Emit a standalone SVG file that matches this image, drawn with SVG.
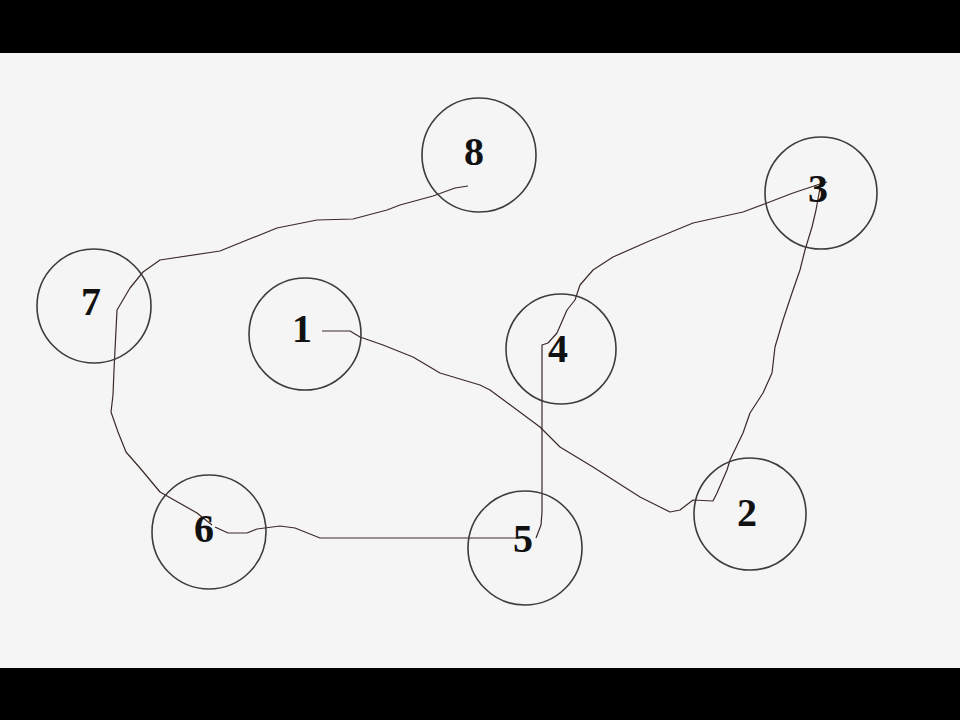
<svg xmlns="http://www.w3.org/2000/svg" width="960" height="720" viewBox="0 0 960 720">
<style>
.node circle{fill:none;stroke:#3c3c3c;stroke-width:1.6}
.node text{font-family:"Liberation Serif","Times New Roman",serif;font-weight:bold;font-size:40px;fill:#111;text-anchor:middle}
.edges path{fill:none;stroke:#3a2a28;stroke-width:1.2;stroke-linejoin:round}
</style>
<rect x="0" y="0" width="960" height="720" fill="#000"/>
<rect x="0" y="53" width="960" height="615" fill="#f6f5f5"/>
<g class="edges">
<path d="M468,186 L455,188 L433,196 L400,205 L387,210 L353,219 L317,220 L277,228 L220,251 L160,260 L143,272 L130,288 L117,310"/>
<path d="M117,310 L116,330 L114,370 L113,395 L111,412 L118,432 L126,452 L140,468 L160,492 L197,513 L212,525"/>
<path d="M215,527 L228,533 L247,533 L257,529 L280,526 L295,528 L320,538 L525,538"/>
<path d="M536,538 L541,525 L542,512 L542,345 L548,343"/>
<path d="M548,343 L557,333 L567,310 L575,300 L580,285 L593,270 L613,257 L647,242 L693,223 L743,212 L767,203 L793,193 L820,184 L827,182"/>
<path d="M820,188 L816,210 L812,227 L805,250 L800,270 L792,293 L783,320 L775,347 L772,373 L763,393 L750,413 L743,433 L730,460 L727,470 L717,493 L713,501"/>
<path d="M322,331 L350,331 L360,337 L383,345 L413,357 L440,373 L480,385 L490,390 L540,427 L560,447 L593,467 L640,497 L660,507 L670,512 L680,510 L693,500 L713,501"/>
</g>
<g id="node1" class="node"><circle cx="305" cy="334" r="56"/><text x="302" y="342">1</text></g>
<g id="node2" class="node"><circle cx="750" cy="514" r="56"/><text x="747" y="526">2</text></g>
<g id="node3" class="node"><circle cx="821" cy="193" r="56"/><text x="818" y="202">3</text></g>
<g id="node4" class="node"><circle cx="561" cy="349" r="55"/><text x="558" y="362">4</text></g>
<g id="node5" class="node"><circle cx="525" cy="548" r="57"/><text x="523" y="552">5</text></g>
<g id="node6" class="node"><circle cx="209" cy="532" r="57"/><text x="204" y="542">6</text></g>
<g id="node7" class="node"><circle cx="94" cy="306" r="57"/><text x="91" y="315">7</text></g>
<g id="node8" class="node"><circle cx="479" cy="155" r="57"/><text x="474" y="165">8</text></g>
</svg>
